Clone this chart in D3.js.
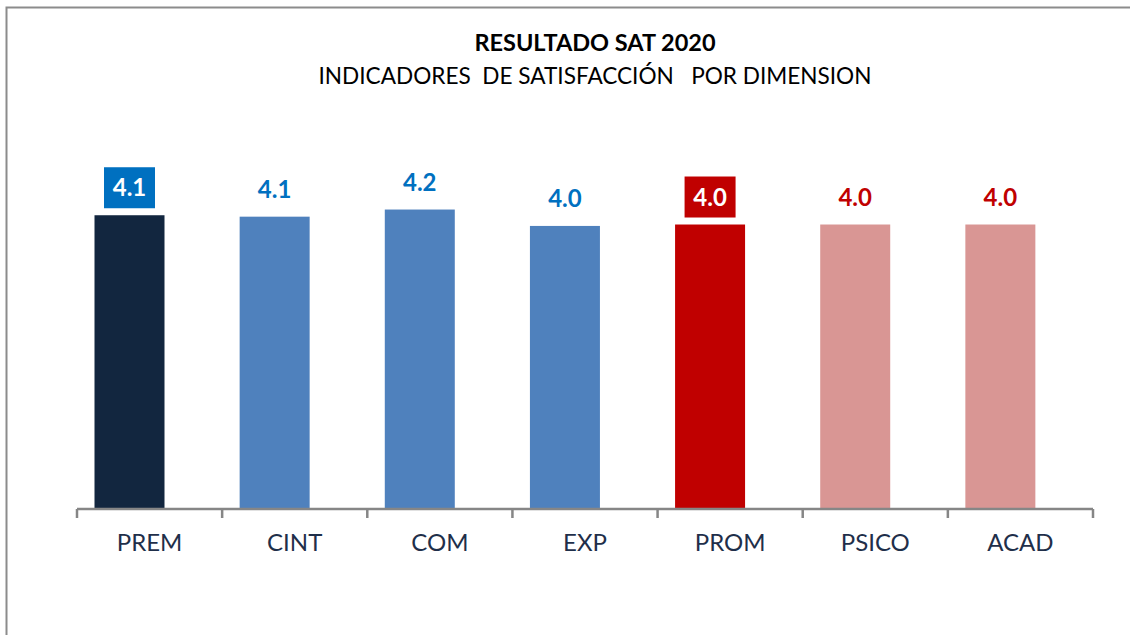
<!DOCTYPE html>
<html>
<head>
<meta charset="utf-8">
<script src="https://cdn.jsdelivr.net/npm/d3@7"></script>
<style>
  body { margin: 0; background: #fff; }
  text { font-family: Lato, "Open Sans", sans-serif; }
</style>
</head>
<body>
<div id="chart"></div>
<script>
// chart data
var categories = ["PREM", "CINT", "COM", "EXP", "PROM", "PSICO", "ACAD"];
var values = [4.12, 4.10, 4.20, 3.97, 3.99, 3.99, 3.99];
var barColors = ["#12263F", "#4F81BD", "#4F81BD", "#4F81BD", "#C00000", "#D99694", "#D99694"];
var labelColors = ["#0070C0", "#0070C0", "#0070C0", "#0070C0", "#C00000", "#C00000", "#C00000"];
var boxed = [true, false, false, false, true, false, false];

var svgWidth = 1130;
var svgHeight = 635;

var svg = d3.select("#chart")
  .append("svg")
  .attr("width", svgWidth)
  .attr("height", svgHeight);

// outer frame (runs off the right and bottom edge)
svg.append("rect")
  .attr("x", 6.5)
  .attr("y", 7.5)
  .attr("width", 1140)
  .attr("height", 640)
  .attr("fill", "#fff")
  .attr("stroke", "#8c8c8c")
  .attr("stroke-width", 2);

// titles
svg.append("text")
  .attr("x", 595)
  .attr("y", 51)
  .attr("text-anchor", "middle")
  .attr("font-size", "23.5px")
  .attr("font-weight", "bold")
  .attr("fill", "#000")
  .text("RESULTADO SAT 2020");

svg.append("text")
  .attr("x", 595)
  .attr("y", 84)
  .attr("text-anchor", "middle")
  .attr("font-size", "22.6px")
  .attr("fill", "#000")
  .style("white-space", "pre")
  .text("INDICADORES  DE SATISFACCIÓN   POR DIMENSION");

var x0 = 77, x1 = 1093;
var baseY = 509;

var xScale = d3.scaleBand()
  .domain(categories)
  .range([x0, x1]);

var yScale = d3.scaleLinear()
  .domain([0, 5])
  .range([baseY, baseY - 356.5]);

var barW = 70;
var barOffset = 17.5;   // bars sit left of the band centre

var chartGroup = svg.append("g");

chartGroup.selectAll("rect.bar")
  .data(values)
  .enter()
  .append("rect")
  .attr("class", "bar")
  .attr("x", (d, i) => xScale(categories[i]) + barOffset)
  .attr("y", d => yScale(d))
  .attr("width", barW)
  .attr("height", d => baseY - yScale(d))
  .attr("fill", (d, i) => barColors[i]);

// value labels, some with a filled box
values.forEach(function(v, i) {
  var cx = xScale(categories[i]) + barOffset + barW / 2;
  var top = yScale(v);
  if (boxed[i]) {
    chartGroup.append("rect")
      .attr("x", cx - 25.5)
      .attr("y", top - 48)
      .attr("width", 51)
      .attr("height", 41)
      .attr("fill", labelColors[i]);
  }
  chartGroup.append("text")
    .attr("x", cx)
    .attr("y", top - 19)
    .attr("text-anchor", "middle")
    .attr("font-size", "24px")
    .attr("font-weight", "bold")
    .attr("fill", boxed[i] ? "#fff" : labelColors[i])
    .text(v.toFixed(1));
});

// axis
var bottomAxis = d3.axisBottom(xScale)
  .tickSize(0)
  .tickPadding(0);

var axisG = chartGroup.append("g")
  .attr("transform", `translate(0, ${baseY})`)
  .call(bottomAxis);

axisG.select(".domain")
  .attr("stroke", "#868686")
  .attr("stroke-width", 2.5)
  .attr("d", `M${x0},0H${x1}`);

axisG.selectAll(".tick text")
  .attr("y", 42)
  .attr("dy", 0)
  .attr("font-size", "24px")
  .attr("font-family", "Lato, sans-serif")
  .attr("fill", "#1F2F4A");

// category boundary ticks
var bounds = categories.map(c => xScale(c)).concat([x1]);
axisG.selectAll("line.sep")
  .data(bounds)
  .enter()
  .append("line")
  .attr("class", "sep")
  .attr("x1", d => d)
  .attr("x2", d => d)
  .attr("y1", 0)
  .attr("y2", 9)
  .attr("stroke", "#868686")
  .attr("stroke-width", 2.5);
</script>
</body>
</html>
